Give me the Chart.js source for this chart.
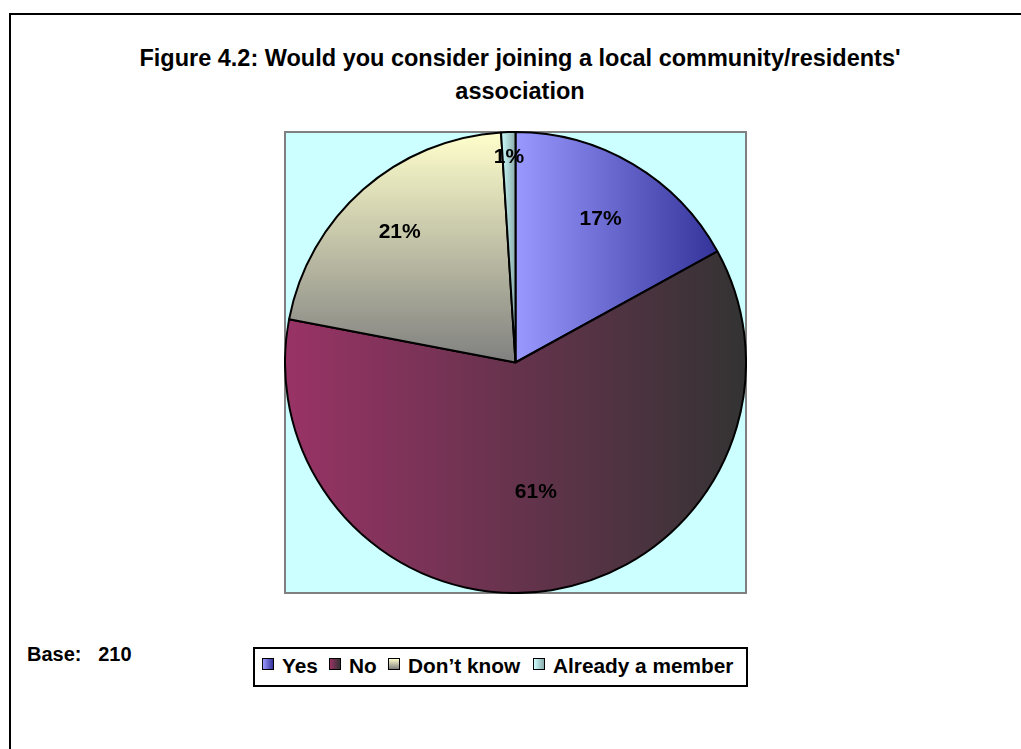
<!DOCTYPE html>
<html>
<head>
<meta charset="utf-8">
<script src="https://cdn.jsdelivr.net/npm/chart.js@4.4.1/dist/chart.umd.min.js"></script>
<style>
  html, body { margin: 0; padding: 0; background: #ffffff; }
  body { width: 1021px; height: 749px; position: relative; overflow: hidden;
         font-family: "Liberation Sans", Arial, sans-serif; font-weight: bold; color: #000; }
  #frame { position: absolute; left: 9px; top: 13px; width: 1100px; height: 800px;
           border-left: 2px solid #000; border-top: 2px solid #000; }
  #title { position: absolute; left: 20px; width: 1000px; top: 42px; text-align: center;
           font-size: 23.5px; line-height: 33px; }
  #plot { position: absolute; left: 284px; top: 131px; width: 459px; height: 459px;
          background: #CCFFFF; border: 2px solid #808080; }
  #wrap { position: absolute; left: 284px; top: 131px; width: 463px; height: 463px; }
  #base { position: absolute; left: 27px; top: 642px; font-size: 20px; line-height: 24px; white-space: pre; }
  #legend { position: absolute; left: 253px; top: 647px; width: 491px; height: 36px;
            border: 2px solid #000; background: #fff; font-size: 20.8px; white-space: nowrap; }
  .sw { position: absolute; top: 9px; width: 10px; height: 10px; border: 1.5px solid #000; }
  .lt { position: absolute; top: 5px; line-height: 24px; }
</style>
</head>
<body>
<div id="frame"></div>
<div id="title"></div>
<div id="plot"></div>
<div id="wrap"><canvas id="c"></canvas></div>
<div id="base"></div>
<div id="legend"></div>
<script>
// ---- data ----
const titleLines = ["Figure 4.2: Would you consider joining a local community/residents'", "association"];
const categories = ["Yes", "No", "Don\u2019t know", "Already a member"];
const values = [17, 61, 21, 1];
const baseText = "Base:   210";

// ---- styles ----
const sliceFill = [
  { dir: 'h', from: '#9999FF', to: '#333399' },
  { dir: 'h', from: '#993366', to: '#333333' },
  { dir: 'v', from: '#FFFFCC', to: '#808080' },
  { dir: 'h', from: '#CCFFFF', to: '#8CAAAA' }
];
const labelRadius = [0.725, 0.565, 0.76, 0.895];
const legendSwatchX = [7, 74, 133, 278];

document.getElementById('title').innerHTML = titleLines.map(t => '<div>' + t + '</div>').join('');
document.getElementById('base').textContent = baseText;

const legendEl = document.getElementById('legend');
categories.forEach((name, i) => {
  const f = sliceFill[i];
  const sw = document.createElement('div');
  sw.className = 'sw';
  sw.style.left = legendSwatchX[i] + 'px';
  sw.style.background = 'linear-gradient(' + (f.dir === 'h' ? 'to right' : 'to bottom') + ', ' + f.from + ', ' + f.to + ')';
  const tx = document.createElement('span');
  tx.className = 'lt';
  tx.style.left = (legendSwatchX[i] + 20) + 'px';
  tx.textContent = name;
  legendEl.appendChild(sw);
  legendEl.appendChild(tx);
});

function sliceFillStyle(context) {
  const chart = context.chart;
  const i = context.dataIndex;
  const f = sliceFill[i];
  const area = chart.chartArea;
  if (!area) return f.from;
  const data = chart.data.datasets[0].data;
  const total = data.reduce((a, b) => a + b, 0);
  let cum = 0;
  for (let k = 0; k < i; k++) cum += data[k];
  const t0 = cum / total * 2 * Math.PI;
  const t1 = (cum + data[i]) / total * 2 * Math.PI;
  const cx = (area.left + area.right) / 2, cy = (area.top + area.bottom) / 2;
  const r = Math.min(area.width, area.height) / 2 - 1;
  const pts = [[cx, cy]];
  const n = 90;
  for (let s = 0; s <= n; s++) {
    const t = t0 + (t1 - t0) * s / n;
    pts.push([cx + r * Math.sin(t), cy - r * Math.cos(t)]);
  }
  let minX = Infinity, maxX = -Infinity, minY = Infinity, maxY = -Infinity;
  pts.forEach(p => { minX = Math.min(minX, p[0]); maxX = Math.max(maxX, p[0]); minY = Math.min(minY, p[1]); maxY = Math.max(maxY, p[1]); });
  const g = f.dir === 'h'
    ? chart.ctx.createLinearGradient(minX, 0, maxX, 0)
    : chart.ctx.createLinearGradient(0, minY, 0, maxY);
  g.addColorStop(0, f.from);
  g.addColorStop(1, f.to);
  return g;
}

const pctLabels = {
  id: 'pctLabels',
  afterDatasetsDraw(chart) {
    const ctx = chart.ctx;
    const meta = chart.getDatasetMeta(0);
    const data = chart.data.datasets[0].data;
    const total = data.reduce((a, b) => a + b, 0);
    ctx.save();
    ctx.font = 'bold 21px "Liberation Sans", Arial, sans-serif';
    ctx.fillStyle = '#000';
    ctx.textAlign = 'center';
    ctx.textBaseline = 'middle';
    meta.data.forEach((arc, i) => {
      const p = arc.getProps(['x', 'y', 'startAngle', 'endAngle', 'outerRadius'], true);
      const mid = (p.startAngle + p.endAngle) / 2;
      const rr = p.outerRadius * labelRadius[i];
      const txt = Math.round(data[i] / total * 100) + '%';
      ctx.fillText(txt, p.x + Math.cos(mid) * rr, p.y + Math.sin(mid) * rr + 1);
    });
    ctx.restore();
  }
};

new Chart(document.getElementById('c'), {
  type: 'pie',
  data: {
    labels: categories,
    datasets: [{
      data: values,
      backgroundColor: sliceFillStyle,
      borderColor: '#000000',
      borderWidth: 2,
      hoverOffset: 0
    }]
  },
  options: {
    responsive: true,
    maintainAspectRatio: false,
    animation: false,
    layout: { padding: 0 },
    plugins: {
      legend: { display: false },
      title: { display: false },
      tooltip: { enabled: false }
    },
    events: []
  },
  plugins: [pctLabels]
});
</script>
</body>
</html>
